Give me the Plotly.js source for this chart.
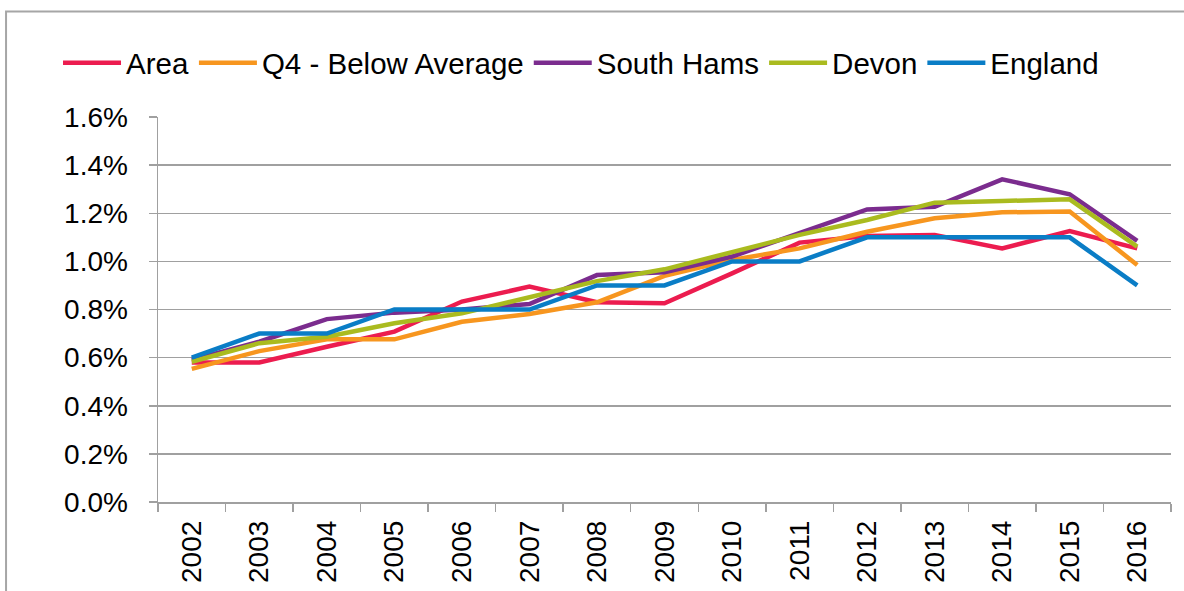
<!DOCTYPE html>
<html>
<head>
<meta charset="utf-8">
<script src="https://cdn.plot.ly/plotly-3.0.1.min.js"></script>
<style>html,body{margin:0;padding:0;background:#fff;}#chart{width:1184px;height:591px;}</style>
</head>
<body>
<div id="chart"></div>
<script>
const years = ["2002","2003","2004","2005","2006","2007","2008","2009","2010","2011","2012","2013","2014","2015","2016"];
const seriesNames = ["Area", "Q4 - Below Average", "South Hams", "Devon", "England"];
const area      = [0.58, 0.58, 0.645, 0.708, 0.833, 0.895, 0.83, 0.826, 0.95, 1.078, 1.105, 1.11, 1.054, 1.126, 1.054];
const q4        = [0.553, 0.627, 0.676, 0.676, 0.749, 0.781, 0.83, 0.94, 1.006, 1.054, 1.123, 1.179, 1.204, 1.207, 0.985];
const southHams = [0.59, 0.666, 0.76, 0.787, 0.80, 0.823, 0.943, 0.955, 1.02, 1.117, 1.216, 1.227, 1.341, 1.279, 1.085];
const devon     = [0.583, 0.66, 0.687, 0.743, 0.784, 0.853, 0.918, 0.967, 1.04, 1.11, 1.172, 1.244, 1.251, 1.258, 1.061];
const england   = [0.60, 0.70, 0.70, 0.80, 0.80, 0.80, 0.90, 0.90, 1.00, 1.00, 1.10, 1.10, 1.10, 1.10, 0.90];

const colors = ["#EC1C4F", "#F7961F", "#7B2C8E", "#AABB1F", "#0A7DC6"];
const values = [area, q4, southHams, devon, england];

const traces = values.map((v, i) => ({
  type: "scatter",
  mode: "lines",
  x: years,
  y: v,
  name: seriesNames[i],
  line: {color: colors[i], width: 4.5},
  hoverinfo: "skip"
}));

const grey = "#a0a0a0";
const layout = {
  width: 1184,
  height: 591,
  margin: {l: 158, r: 13, t: 117, b: 89, pad: 0},
  paper_bgcolor: "#ffffff",
  plot_bgcolor: "#ffffff",
  font: {family: "Liberation Sans, Arial, sans-serif", size: 28, color: "#000000"},
  showlegend: true,
  legend: {
    orientation: "h",
    xref: "paper", yref: "paper",
    x: -0.0987, y: 1.1403,
    xanchor: "left", yanchor: "middle",
    font: {size: 29.5, color: "#000000"},
    itemwidth: 58,
    bgcolor: "rgba(0,0,0,0)"
  },
  xaxis: {
    type: "category",
    range: [-0.5, 14.5],
    tickson: "boundaries",
    ticks: "outside",
    ticklen: 8,
    tickwidth: 1.5,
    tickcolor: grey,
    tickangle: -90,
    showgrid: false,
    showline: true,
    linecolor: grey,
    linewidth: 1.5,
    ticklabelstandoff: 6,
    tickfont: {size: 28},
    fixedrange: true
  },
  yaxis: {
    range: [0, 1.6],
    dtick: 0.2,
    tick0: 0,
    tickformat: ".1f",
    ticksuffix: "%",
    ticks: "outside",
    ticklen: 8,
    tickwidth: 1.5,
    tickcolor: grey,
    showgrid: true,
    gridcolor: grey,
    gridwidth: 1.5,
    showline: true,
    linecolor: grey,
    linewidth: 1.5,
    zeroline: false,
    ticklabelstandoff: 15,
    tickfont: {size: 28},
    fixedrange: true
  },
  shapes: [{
    type: "rect", xref: "paper", yref: "paper",
    x0: -0.150, x1: 1.05, y0: -0.4, y1: 1.274,
    line: {color: "#a6a6a6", width: 2}, fillcolor: "rgba(0,0,0,0)", layer: "below"
  }]
};

Plotly.newPlot("chart", traces, layout, {displayModeBar: false, staticPlot: true});
</script>
</body>
</html>
